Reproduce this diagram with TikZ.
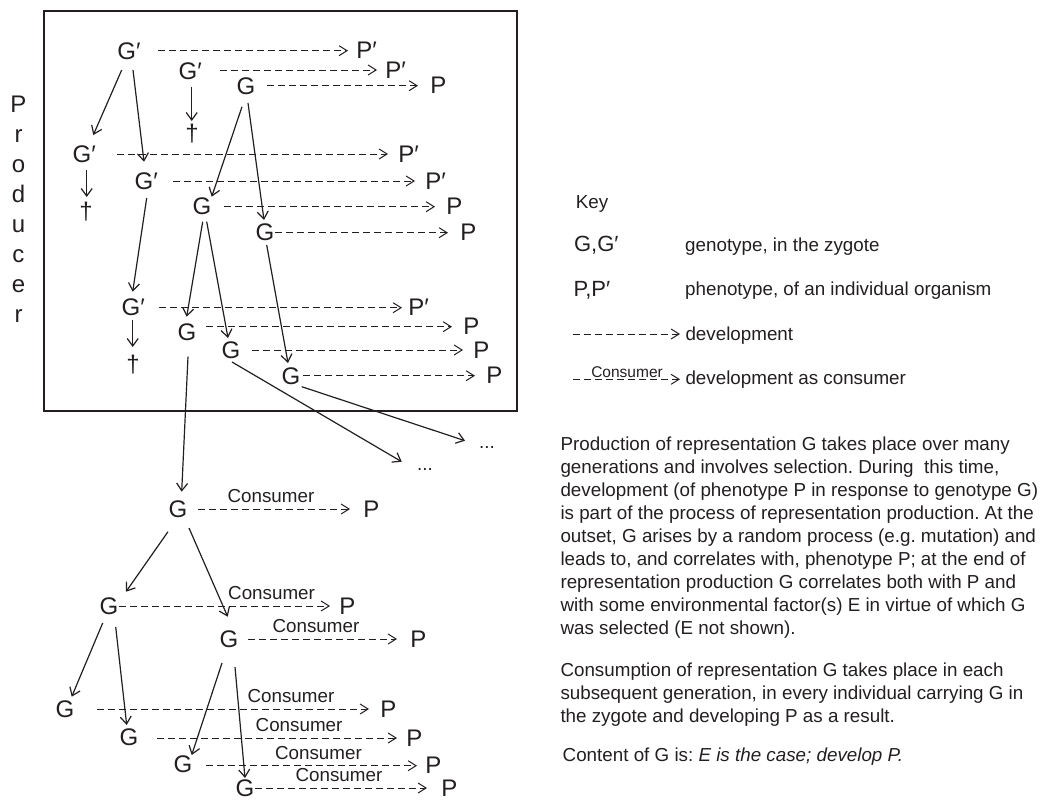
\documentclass[tikz,border=0pt]{standalone}
\usepackage{fontspec}
\setmainfont{Liberation Sans}
\usetikzlibrary{arrows.meta,calc}
\frenchspacing
\definecolor{ink}{RGB}{35,31,32}

\tikzset{
  gen/.style={font=\fontsize{24}{24}\selectfont, inner sep=0pt, text=ink},
  keysym/.style={font=\fontsize{22}{22}\selectfont, inner sep=0pt, text=ink, anchor=base west},
  txt/.style={font=\fontsize{18.8}{23}\selectfont, inner sep=0pt, text=ink},
  smalltxt/.style={font=\fontsize{15.5}{16}\selectfont, inner sep=0pt, text=ink},
  dev/.style={draw=ink, line width=1pt, dash pattern=on 7pt off 4pt,
    -{Straight Barb[length=8pt,width=10pt,line width=1pt]}},
  link/.style={draw=ink, line width=1.2pt,
    -{Straight Barb[length=7.5pt,width=11pt,line width=1.2pt]}},
  cons/.style={txt, above=5.5pt},
  frame/.style={draw=ink, line width=1.4pt},
}

% development arrow from a genotype to its phenotype:
% #1 genotype, #2 phenotype, #3 start offset from genotype centre, #4 gap before phenotype
\newcommand\devline[4]{%
  \draw[dev] ($(#1.center |- #2.west)+(#3,0)$) -- ($(#2.west)+(-#4,0)$);}
% the same, labelled as consumer; #5 label position along the arrow
\newcommand\consline[5]{%
  \draw[dev] ($(#1.center |- #2.west)+(#3,0)$) --
    node[cons, pos=#5] (#1lab) {Consumer} ($(#2.west)+(-#4,0)$);}
% inheritance arrow with start and end offsets from the node centres
\newcommand\inherit[4]{%
  \draw[link] ([shift={(#2)}]#1.center) -- ([shift={(#4)}]#3.center);}

\begin{document}
\begin{tikzpicture}[x=1pt,y=-1pt]
\useasboundingbox (0,0) rectangle (1054,800);

% producer frame and its vertical caption
\draw[frame] (44,11) rectangle (517,411);
\foreach \ch [count=\i from 0] in {P,r,o,d,u,c,e,r}
  \node[gen, anchor=base] (prod\i) at (18.5,{112+30*\i}) {\ch};

% genotypes during production
\node[gen] (g1)  at (126.7,51) {G\rlap{′}};
\node[gen] (g2)  at (188,71)   {G\rlap{′}};
\node[gen] (g3)  at (246,86)   {G};
\node[gen] (g4)  at (82,154)   {G\rlap{′}};
\node[gen] (g5)  at (144,181)  {G\rlap{′}};
\node[gen] (g6)  at (202,206)  {G};
\node[gen] (g7)  at (265,232)  {G};
\node[gen] (g8)  at (131,307)  {G\rlap{′}};
\node[gen] (g9)  at (187,332)  {G};
\node[gen] (g10) at (231,350)  {G};
\node[gen] (g11) at (291,376)  {G};

% extinct lines
\node[gen] (dag2) at (192,134) {†};
\node[gen] (dag4) at (86,212)  {†};
\node[gen] (dag8) at (133,365) {†};

% phenotypes during production
\node[gen, anchor=west] (p1)  at (356.2,50.7)  {P\rlap{′}};
\node[gen, anchor=west] (p2)  at (385.2,70)    {P\rlap{′}};
\node[gen, anchor=west] (p3)  at (430.2,85.7)  {P};
\node[gen, anchor=west] (p4)  at (398.2,154)   {P\rlap{′}};
\node[gen, anchor=west] (p5)  at (425.2,181)   {P\rlap{′}};
\node[gen, anchor=west] (p6)  at (446.2,206.7) {P};
\node[gen, anchor=west] (p7)  at (460.2,232.7) {P};
\node[gen, anchor=west] (p8)  at (408.2,307.7) {P\rlap{′}};
\node[gen, anchor=west] (p9)  at (463.2,326.7) {P};
\node[gen, anchor=west] (p10) at (473.2,350)   {P};
\node[gen, anchor=west] (p11) at (486.2,375.7) {P};

% continuing lineages
\node[txt, anchor=base] (dotsA) at (425,470) {...};
\node[txt, anchor=base] (dotsB) at (487,448) {...};

% genotypes and phenotypes during consumption
\node[gen] (gA) at (178,509) {G};
\node[gen] (gB) at (109,606) {G};
\node[gen] (gC) at (229,639) {G};
\node[gen] (gD) at (65,709)  {G};
\node[gen] (gE) at (129,737) {G};
\node[gen] (gF) at (183,764) {G};
\node[gen] (gG) at (245,788) {G};

\node[gen, anchor=west] (pA) at (363.2,509)   {P};
\node[gen, anchor=west] (pB) at (339.2,606)   {P};
\node[gen, anchor=west] (pC) at (410.2,639)   {P};
\node[gen, anchor=west] (pD) at (380.2,709)   {P};
\node[gen, anchor=west] (pE) at (406.2,738)   {P};
\node[gen, anchor=west] (pF) at (425.2,765.7) {P};
\node[gen, anchor=west] (pG) at (441.2,788)   {P};

% development during production
\devline{g1}{p1}{31.3}{8.2}
\devline{g2}{p2}{32}{8.2}
\devline{g3}{p3}{21}{12.2}
\devline{g4}{p4}{35}{10.2}
\devline{g5}{p5}{29}{10.2}
\devline{g6}{p6}{22}{11.2}
\devline{g7}{p7}{10}{12.2}
\devline{g8}{p8}{28}{6.2}
\devline{g9}{p9}{19}{11.2}
\devline{g10}{p10}{21}{10.2}
\devline{g11}{p11}{12}{11.2}

% development as consumer
\consline{gA}{pA}{20}{13.2}{0.48}
\consline{gB}{pB}{10}{9.2}{0.723}
\consline{gC}{pC}{19}{13.2}{0.456}
\consline{gD}{pD}{32}{11.2}{0.713}
\consline{gE}{pE}{28}{9.2}{0.592}
\consline{gF}{pF}{23}{8.2}{0.533}
\consline{gG}{pG}{10}{14.2}{0.488}

% inheritance during production
\inherit{g1}{-5,19}{g4}{11.3,-19}
\inherit{g1}{6.3,19}{g5}{0,-19.3}
\inherit{g2}{3.7,16}{dag2}{-0.3,-13}
\inherit{g3}{-4,20.7}{g6}{9.7,-9.3}
\inherit{g3}{2,17}{g7}{-1,-12}
\inherit{g4}{4.7,16}{dag4}{0.7,-15}
\inherit{g5}{2.7,17}{g8}{1.7,-15.3}
\inherit{g6}{0.7,15.7}{g9}{-0.3,-15.3}
\inherit{g6}{4.7,15.7}{g10}{-3,-12}
\inherit{g7}{1.7,13}{g11}{-3,-13}
\inherit{g8}{1.7,13}{dag8}{-0.3,-18}
\inherit{g9}{1,24.7}{gA}{3.7,-17.3}
\draw[link] ([shift={(1,12)}]g10.center) -- ([shift={(-23.3,-8.3)}]dotsA.base);
\draw[link] ([shift={(10.7,10.7)}]g11.center) -- ([shift={(-22,-7.3)}]dotsB.base);

% inheritance during consumption
\inherit{gA}{-10,22.7}{gB}{17,-14.3}
\inherit{gA}{11,19}{gC}{-1.3,-22.3}
\inherit{gB}{-6.3,17}{gD}{6.7,-12.3}
\inherit{gB}{6.7,21}{gE}{-2.3,-12}
\inherit{gC}{-7,24}{gF}{8.7,-9}
\inherit{gC}{6,28}{gG}{0,-10}

% key
\node[txt, anchor=base west] (keyhead) at (575.6,208.3) {Key};
\node[keysym] (keyg) at (573.9,251.7) {G,G\rlap{′}};
\node[txt, anchor=base west] (keygtxt) at (685,251.7) {genotype, in the zygote};
\node[keysym] (keyp) at (573.3,296) {P,P\rlap{′}};
\node[txt, anchor=base west] (keyptxt) at (685,295) {phenotype, of an individual organism};
\node[txt, anchor=base west] (keydev) at (685.3,340) {development};
\node[txt, anchor=base west] (keycons) at (685.3,384) {development as consumer};
\coordinate (kd1) at (572.7,334);
\coordinate (kd2) at (573,379.3);
\draw[dev] (kd1) -- ($(kd1 -| keydev.west)+(-5.3,0)$);
\draw[dev] (kd2) -- node[smalltxt, pos=0.505, above=1.5pt] (keyconslab) {Consumer}
  ($(kd2 -| keycons.west)+(-5.3,0)$);

% explanatory text
\foreach \ln [count=\i from 0] in {
  {Production of representation G takes place over many},
  {generations and involves selection. During\ \ this time,},
  {development (of phenotype P in response to genotype G)},
  {is part of the process of representation production. At the},
  {outset, G arises by a random process (e.g. mutation) and},
  {leads to, and correlates with, phenotype P; at the end of},
  {representation production G correlates both with P and},
  {with some environmental factor(s) E in virtue of which G},
  {was selected (E not shown).}}
  \node[txt, anchor=base west] (prodtxt\i) at (560.3,{450.7+23*\i}) {\ln};

\foreach \ln [count=\i from 0] in {
  {Consumption of representation G takes place in each},
  {subsequent generation, in every individual carrying G in},
  {the zygote and developing P as a result.}}
  \node[txt, anchor=base west] (constxt\i) at (560.3,{676.7+23*\i}) {\ln};

\node[txt, anchor=base west] (content) at (562.5,761.5)
  {Content of G is: \textit{E is the case; develop P.}};
\end{tikzpicture}
\end{document}
